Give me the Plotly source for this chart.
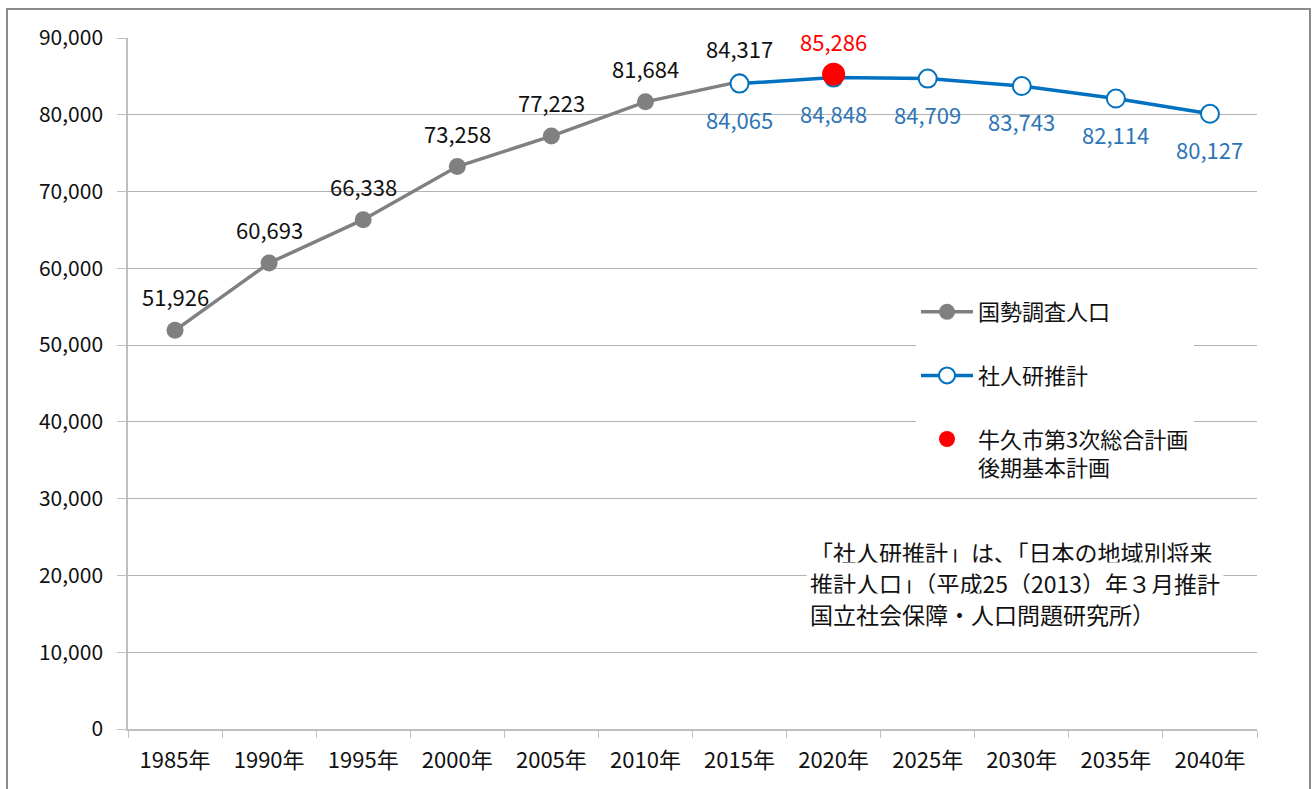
import plotly.graph_objects as go

# 年次カテゴリ
years = ["1985年", "1990年", "1995年", "2000年", "2005年", "2010年",
         "2015年", "2020年", "2025年", "2030年", "2035年", "2040年"]

# 国勢調査人口（1985〜2015年）
census_years = years[:7]
census_pop = [51926, 60693, 66338, 73258, 77223, 81684, 84317]

# 社人研推計（2015〜2040年）
ipss_years = years[6:]
ipss_pop = [84065, 84848, 84709, 83743, 82114, 80127]

# 牛久市第3次総合計画 後期基本計画
plan_years = ["2020年"]
plan_pop = [85286]

# 出典注記（行ごと）
note_lines = [
    "「社人研推計」は、「日本の地域別将来",
    "推計人口」（平成25（2013）年３月推計",
    "国立社会保障・人口問題研究所）",
]

GRAY = "#808080"
BLUE = "#0070C0"
BLUE_TXT = "#2E75B6"
RED = "#FF0000"
FONT = "Noto Sans CJK JP"

fig = go.Figure()

fig.add_trace(go.Scatter(
    x=census_years, y=census_pop, name="国勢調査人口",
    mode="lines+markers",
    line=dict(color=GRAY, width=3.5),
    marker=dict(color=GRAY, size=17),
    legendgroup="a",
))
fig.add_trace(go.Scatter(
    x=ipss_years, y=ipss_pop, name="社人研推計",
    mode="lines+markers",
    line=dict(color=BLUE, width=3.5),
    marker=dict(color="white", size=18, line=dict(color=BLUE, width=2)),
    legendgroup="b",
))
fig.add_trace(go.Scatter(
    x=plan_years, y=plan_pop, name="牛久市第3次総合計画<br>後期基本計画",
    mode="markers",
    marker=dict(color=RED, size=23),
    legendgroup="c",
))

annotations = []
for x, v in zip(census_years, census_pop):
    annotations.append(dict(x=x, y=v, text=f"{v:,}", showarrow=False,
                            yshift=34, font=dict(color="#111111", size=22, family=FONT)))
for x, v in zip(ipss_years, ipss_pop):
    annotations.append(dict(x=x, y=v, text=f"{v:,}", showarrow=False,
                            yshift=-35, font=dict(color=BLUE_TXT, size=22, family=FONT)))
for x, v in zip(plan_years, plan_pop):
    annotations.append(dict(x=x, y=v, text=f"{v:,}", showarrow=False,
                            yshift=33, font=dict(color=RED, size=22, family=FONT)))

# 注記は一行ずつ配置し、白地で目盛線を隠す
note_y_px = [552, 583, 614]
for line, ypx in zip(note_lines, note_y_px):
    annotations.append(dict(
        xref="paper", yref="paper", x=(806 - 128) / 1129, y=(729 - ypx) / 691,
        xanchor="left", yanchor="middle", text=line, align="left",
        showarrow=False, bgcolor="white", borderpad=3,
        font=dict(color="#111111", size=23, family=FONT),
    ))

fig.update_layout(
    width=1315, height=789,
    margin=dict(l=128, r=58, t=38, b=60),
    paper_bgcolor="white", plot_bgcolor="white",
    font=dict(family=FONT, size=21, color="#111111"),
    showlegend=True,
    legend=dict(
        x=(916 - 128) / 1129, y=(729 - 291) / 691, xanchor="left", yanchor="top",
        bgcolor="white", font=dict(size=22, family=FONT, color="#111111"),
        tracegroupgap=32, valign="top", itemwidth=52,
    ),
    annotations=annotations,
    shapes=[dict(
        type="rect", xref="paper", yref="paper",
        x0=(7 - 128) / 1129, x1=(1310 - 128) / 1129,
        y0=-0.12, y1=(729 - 9) / 691,
        line=dict(color="#8c8c8c", width=2), fillcolor="rgba(0,0,0,0)",
        layer="below",
    )],
)

fig.update_xaxes(
    type="category", categoryorder="array", categoryarray=years,
    range=[-0.5, len(years) - 0.5],
    tickson="boundaries", ticks="outside", ticklen=7, tickcolor="#bfbfbf",
    ticklabelstandoff=11,
    showline=True, linecolor="#bfbfbf", linewidth=1.5,
    showgrid=False, tickfont=dict(size=22, family=FONT, color="#111111"),
)
fig.update_yaxes(
    range=[0, 90000], dtick=10000, tickformat=",",
    showgrid=True, gridcolor="#b3b3b3", gridwidth=1.2,
    zeroline=False, showline=True, linecolor="#bfbfbf", linewidth=1.5,
    ticks="outside", ticklen=9, tickcolor="#bfbfbf",
    ticklabelstandoff=10,
    tickfont=dict(size=21, family=FONT, color="#111111"),
)

fig.write_html("out.html")
